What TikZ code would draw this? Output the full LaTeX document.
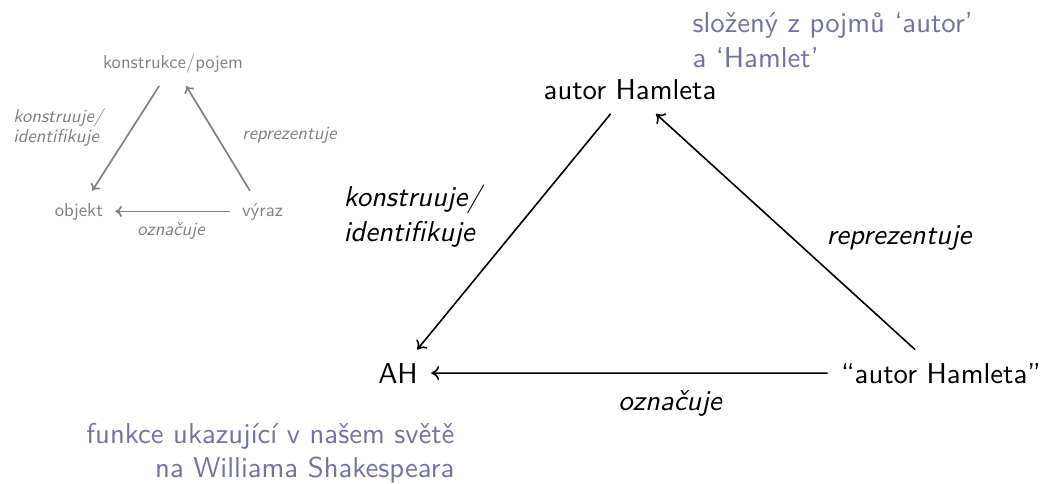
\documentclass[tikz,border=0pt]{standalone}
\usepackage{fontspec}
\usetikzlibrary{arrows.meta}
\definecolor{struct}{RGB}{115,115,162}
\definecolor{lightgr}{RGB}{128,128,128}
\newcommand{\twoleft}[3]{\vtop{\baselineskip=#1\relax\halign{##\hfil\cr#2\cr#3\cr}}}
\newcommand{\tworight}[3]{\vtop{\baselineskip=#1\relax\halign{\hfil##\cr#2\cr#3\cr}}}
\tikzset{
  x=1pt,y=-1pt,
  bigtxt/.style={font=\sffamily, scale=2.87, inner sep=4.5pt, anchor=base},
  bigit/.style={font=\sffamily\itshape, scale=2.87, inner sep=0pt},
  note/.style={font=\sffamily, scale=2.87, inner sep=0pt, text=struct},
  smalltxt/.style={font=\sffamily, scale=1.87, inner sep=6.4pt, text=lightgr, anchor=base},
  smallit/.style={font=\sffamily\itshape, scale=1.87, inner sep=0pt, text=lightgr},
  bigarr/.style={-{Computer Modern Rightarrow[length=8pt,width=14pt]}, line width=1.6pt, black},
  smallarr/.style={-{Computer Modern Rightarrow[length=6.5pt,width=11pt]}, line width=1.7pt, lightgr},
}
\begin{document}
\begin{tikzpicture}
\useasboundingbox (0,0) rectangle (1042,484);
% small triangle
\node[smalltxt] (kp) at (173,69) {konstrukce/pojem};
\node[smalltxt] (obj) at (79,216) {objekt};
\node[smalltxt] (vy) at (262.5,216) {výraz};
\node[smallit, anchor=base west] (sl1) at (13,123) {\twoleft{9.1pt}{konstruuje/}{identifikuje}};
\node[smallit, anchor=base west] (sl2) at (242,140) {reprezentuje};
\node[smallit, anchor=base] (sl3) at (171,235) {označuje};
\draw[smallarr] (kp) -- (obj);
\draw[smallarr] (vy) -- (kp);
\draw[smallarr] (vy) -- (obj);
% main triangle
\node[bigtxt] (ah) at (630,100) {autor Hamleta};
\node[bigtxt] (AH) at (398,383) {AH};
\node[bigtxt] (q) at (941,383) {“autor Hamleta”};
\node[bigit, anchor=base west] (l1) at (343,207) {\twoleft{12pt}{konstruuje/}{identifikuje}};
\node[bigit, anchor=base west] (l2) at (826,244) {reprezentuje};
\node[bigit, anchor=base] (l3) at (670,410) {označuje};
\draw[bigarr] (ah) -- (AH);
\draw[bigarr] (q) -- (ah);
\draw[bigarr] (q) -- (AH);
% notes
\node[note, anchor=base west] (n1) at (692,33) {\twoleft{11.85pt}{složený z pojmů ‘autor’}{a ‘Hamlet’}};
\node[note, anchor=base east] (n2) at (455,443) {\tworight{11.85pt}{funkce ukazující v našem světě}{na Williama Shakespeara}};
\end{tikzpicture}
\end{document}
